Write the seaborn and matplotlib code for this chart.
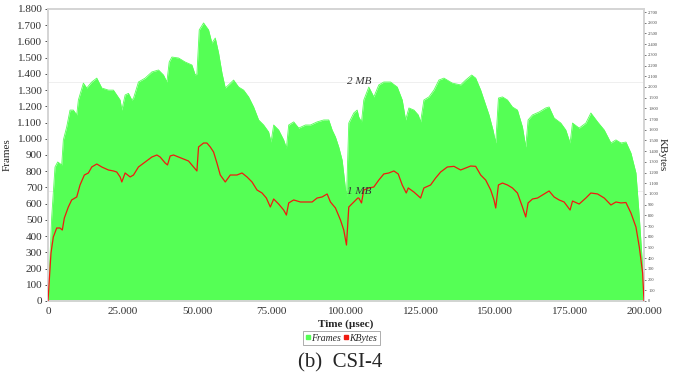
import matplotlib
matplotlib.use('Agg')
import matplotlib.pyplot as plt
import seaborn as sns
import pandas as pd
from matplotlib.lines import Line2D
from matplotlib.ticker import FuncFormatter, MultipleLocator

# Frames (green area), time in usec
frame_t = [0, 1240, 2350, 3250, 4600, 5150, 6270, 7390, 8500, 9640, 10190, 11870, 13000,
           14680, 16370, 18050, 20270, 21950, 23070, 24200, 24770, 25880, 27000, 28130,
           28690, 30350, 32600, 34850, 37080, 38760, 39890, 40670, 41570, 43800, 46050,
           48290, 49400, 49970, 50750, 52200, 53880, 55000, 56130, 57240, 58380, 59490,
           60600, 62280, 63960, 65640, 67320, 69000, 70680, 72360, 74040, 74840, 75730,
           77400, 79080, 80000, 80770, 82450, 84130, 86380, 88060, 90300, 92540, 94210,
           95350, 96460, 97570, 98700, 99490, 100160, 100930, 102610, 103740, 104290,
           105200, 105970, 107650, 109330, 111010, 112690, 114940, 117190, 118870, 120000,
           121110, 122790, 124240, 125030, 126140, 127820, 129500, 131180, 132860, 135680,
           138470, 140150, 142170, 143510, 145200, 146300, 147990, 149330, 150240, 151150,
           152500, 154170, 155850, 157530, 159210, 160320, 161100, 162580, 164800, 167040,
           168150, 169830, 172080, 173760, 175200, 176010, 178240, 180490, 182170, 184420,
           186660, 188900, 190580, 192260, 193940, 195620, 197300, 198420, 199540, 200000]
frames = [0, 518, 826, 857, 839, 993, 1073, 1177, 1177, 1147, 1239, 1343, 1313,
          1350, 1374, 1313, 1300, 1300, 1270, 1239, 1177, 1270, 1280, 1239,
          1250, 1350, 1374, 1412, 1424, 1393, 1350, 1473, 1504, 1498, 1473,
          1455, 1393, 1400, 1671, 1714, 1671, 1590, 1621, 1529, 1405, 1313,
          1332, 1362, 1319, 1300, 1258, 1196, 1116, 1085, 1042, 980, 1085,
          1054, 993, 943, 1085, 1104, 1066, 1085, 1085, 1104, 1116, 1116,
          1054, 1011, 949, 869, 746, 635, 1097, 1159, 1177, 1134,
          1104, 1239, 1319, 1258, 1332, 1350, 1350, 1319, 1239, 1116,
          1190, 1177, 1147, 1104, 1239, 1258, 1300, 1362, 1374, 1343,
          1332, 1362, 1393, 1374, 1300, 1239, 1147, 1054, 974, 1251,
          1258, 1239, 1196, 1177, 1073, 949, 1116, 1147, 1165, 1190,
          1196, 1128, 1097, 1054, 974, 1097, 1066, 1097, 1159, 1104,
          1054, 974, 993, 974, 980, 912, 789, 518, 210, 0]

# KBytes (red line)
kb_t = [0, 1000, 1790, 2920, 4030, 4800, 5480, 6820, 7950, 9640, 10750, 12200, 13550,
        14680, 16370, 18050, 20270, 21950, 23070, 24200, 24770, 25880, 27560, 28690,
        30350, 32600, 34850, 36530, 37640, 39320, 40100, 41000, 42120, 43800, 45470,
        47150, 48830, 49970, 50520, 52200, 53320, 54450, 55560, 56690, 57810, 59490,
        61170, 63410, 65100, 66780, 68460, 70140, 71830, 73270, 74610, 75730, 77400,
        79080, 80000, 80770, 82450, 84700, 86940, 88620, 90300, 91980, 93670, 94780,
        96460, 98140, 99250, 100160, 100930, 102610, 103960, 104290, 105200, 105970,
        107650, 109330, 111010, 112690, 114370, 116050, 117520, 118870, 120220, 120890,
        122790, 125030, 126140, 128390, 130070, 131750, 134000, 136220, 138470, 140150,
        141830, 143510, 145200, 146880, 148560, 149660, 150240, 151150, 152500, 154170,
        155850, 157530, 159210, 160320, 161100, 162580, 164260, 165940, 168150, 169830,
        171510, 173190, 175200, 176010, 178240, 180490, 182170, 184420, 186660, 188900,
        190580, 192260, 193940, 195620, 197300, 198420, 199540, 200000]
kbytes = [0, 448, 598, 682, 682, 663, 775, 878, 944, 972, 1084, 1177, 1196,
          1252, 1280, 1252, 1224, 1215, 1205, 1159, 1112, 1196, 1159, 1177,
          1252, 1299, 1345, 1364, 1345, 1289, 1271, 1355, 1364, 1345, 1327,
          1308, 1252, 1215, 1439, 1476, 1476, 1439, 1392, 1289, 1177, 1112,
          1177, 1177, 1196, 1159, 1112, 1037, 1009, 962, 878, 953, 906,
          850, 803, 916, 944, 925, 925, 925, 962, 972, 1000, 925,
          869, 757, 663, 523, 878, 925, 962, 962, 916, 1037,
          1056, 1065, 1130, 1187, 1196, 1215, 1187, 1084, 1009, 1056,
          1018, 962, 1056, 1084, 1149, 1205, 1252, 1258, 1224, 1243,
          1261, 1258, 1177, 1130, 1037, 944, 869, 1084, 1102, 1084,
          1056, 1009, 878, 785, 916, 953, 962, 990, 1028, 972,
          944, 925, 850, 934, 906, 962, 1009, 1000, 962, 897,
          925, 916, 920, 822, 691, 505, 262, 0]

mb_lines = [1024, 2048]
mb_labels = ['1 MB', '2 MB']

GREEN = '#55ff55'
RED = '#f01a10'
SPINE = '#d4d4d4'
KB_TOP = 2700 * 292 / 289
FR_TOP = 1800


def dot_fmt(x, _):
    return f'{int(round(x)):,}'.replace(',', '.')


sns.set_style('white')
plt.rcParams['font.family'] = ['Liberation Serif', 'DejaVu Serif']

fig = plt.figure(figsize=(6.73, 3.77), dpi=100)
ax = fig.add_axes([48 / 673, 1 - 301 / 377, (644 - 48) / 673, 292 / 377])

df_f = pd.DataFrame({'t': frame_t, 'frames': frames})
df_k = pd.DataFrame({'t': kb_t, 'kb': kbytes})

# faint MB reference lines sit behind the green area
for val in mb_lines:
    ax.axhline(val * FR_TOP / KB_TOP, color='#ececec', linewidth=0.6, zorder=1)

ax.fill_between(df_f['t'], 0, df_f['frames'], color=GREEN, linewidth=0, zorder=2)
sns.lineplot(data=df_f, x='t', y='frames', ax=ax, color=GREEN, linewidth=0.6, zorder=2)
ax.set_xlim(0, 200000)
ax.set_ylim(0, FR_TOP)
ax.xaxis.set_major_locator(MultipleLocator(25000))
ax.yaxis.set_major_locator(MultipleLocator(100))
ax.xaxis.set_major_formatter(FuncFormatter(dot_fmt))
ax.yaxis.set_major_formatter(FuncFormatter(dot_fmt))
ax.tick_params(axis='both', labelsize=8, colors='#333333', length=2, width=0.6, pad=2)
ax.set_xlabel('Time (µsec)', fontsize=8, fontweight='bold', labelpad=3)
ax.set_ylabel('Frames', fontsize=8, labelpad=4)

ax2 = ax.twinx()
sns.lineplot(data=df_k, x='t', y='kb', ax=ax2, color=RED, linewidth=0.9, zorder=4)
ax2.set_ylim(0, KB_TOP)
ax2.yaxis.set_major_locator(MultipleLocator(100))
ax2.yaxis.set_major_formatter(FuncFormatter(dot_fmt))
ax2.tick_params(axis='y', labelsize=3.2, colors='#444444', length=1.5, width=0.5, pad=1.5)
ax2.set_ylabel('KBytes', fontsize=8, rotation=270, labelpad=6)
ax2.set_xlabel('')

for val, lab in zip(mb_lines, mb_labels):
    ax2.text(100500, val, lab, fontsize=8, style='italic', color='#333333',
             ha='left', va='center', zorder=5)

for a in (ax, ax2):
    for s in a.spines.values():
        s.set_color(SPINE)
        s.set_linewidth(1.2)

handles = [Line2D([], [], marker='s', color=GREEN, linestyle='none', markersize=2.5),
           Line2D([], [], marker='s', color=RED, linestyle='none', markersize=2.5)]
leg = fig.legend(handles, ['Frames', 'KBytes'], loc='center', bbox_to_anchor=(0.507, 0.103),
                 ncol=2, prop={'style': 'italic', 'size': 7}, frameon=True,
                 handlelength=0.5, handletextpad=0.1, columnspacing=0.3,
                 borderpad=0.25, fancybox=False)
leg.get_frame().set_edgecolor('#888888')
leg.get_frame().set_linewidth(0.6)

fig.text(0.505, 0.038, '(b)  CSI-4', fontsize=15, ha='center', va='center')

fig.savefig('out.png', dpi=100)
